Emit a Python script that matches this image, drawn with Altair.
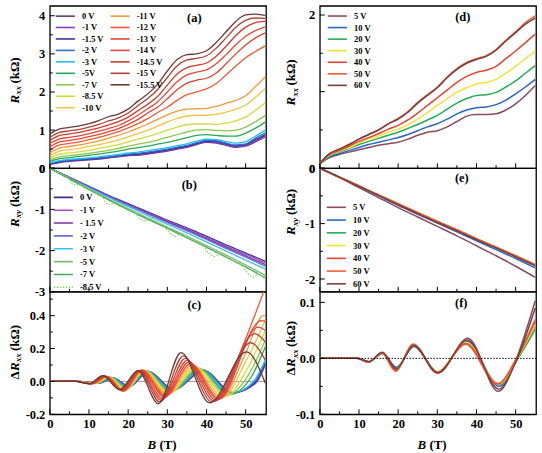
import altair as alt
import pandas as pd

FONT = "Liberation Serif"

# ---------------- shared x values ----------------
B_GRID = [0, 2.5, 5, 7.5, 10, 12.5, 15, 17.5, 20, 22.5, 25, 27.5, 30, 32.5, 35, 37.5, 40, 42.5, 45, 47.5, 50, 52.5, 55]
B_COARSE = [0, 5, 10, 15, 20, 25, 30, 35, 40, 45, 50, 55]
X_TICKS = [0, 10, 20, 30, 40, 50]
X_MINOR = [5, 15, 25, 35, 45]

# ---------------- panel (a) / (c): gate voltages ----------------
A_LABELS = ["0 V", "-1 V", "-1.5 V", "-2 V", "-3 V", "-5V", "-7 V", "-8.5 V", "-10 V",
            "-11 V", "-12 V", "-13 V", "-14 V", "-14.5 V", "-15 V", "-15.5 V"]
A_COLORS = ["#6a3a7a", "#8b3fbf", "#3a2fa2", "#2f6fc8", "#22bdf0", "#2aa85a", "#8cc84a", "#d4dc3c", "#f4c542",
            "#f5993a", "#f05a35", "#e8432f", "#e4473a", "#d33b2c", "#ad4238", "#6e3836"]

RXX_0V = [0.10, 0.15, 0.18, 0.20, 0.22, 0.24, 0.27, 0.30, 0.33, 0.34, 0.37, 0.41, 0.45, 0.50, 0.55, 0.62, 0.68, 0.66, 0.60, 0.55, 0.58, 0.69, 0.82]
RXX_M1V = [0.11, 0.16, 0.19, 0.21, 0.23, 0.25, 0.28, 0.31, 0.34, 0.36, 0.39, 0.43, 0.47, 0.52, 0.57, 0.64, 0.70, 0.68, 0.62, 0.57, 0.60, 0.72, 0.85]
RXX_M1P5V = [0.12, 0.17, 0.20, 0.22, 0.24, 0.26, 0.29, 0.32, 0.35, 0.37, 0.40, 0.44, 0.48, 0.53, 0.58, 0.65, 0.71, 0.70, 0.64, 0.59, 0.62, 0.75, 0.88]
RXX_M2V = [0.13, 0.18, 0.21, 0.23, 0.25, 0.27, 0.30, 0.33, 0.37, 0.39, 0.42, 0.46, 0.50, 0.55, 0.60, 0.67, 0.73, 0.72, 0.66, 0.61, 0.64, 0.79, 0.93]
RXX_M3V = [0.14, 0.20, 0.23, 0.25, 0.27, 0.30, 0.33, 0.36, 0.40, 0.42, 0.46, 0.50, 0.54, 0.59, 0.64, 0.71, 0.76, 0.75, 0.70, 0.66, 0.70, 0.84, 1.00]
RXX_M5V = [0.18, 0.25, 0.28, 0.31, 0.34, 0.37, 0.41, 0.45, 0.50, 0.54, 0.58, 0.63, 0.68, 0.74, 0.80, 0.86, 0.88, 0.86, 0.84, 0.84, 0.92, 1.05, 1.21]
RXX_M7V = [0.22, 0.30, 0.33, 0.36, 0.39, 0.43, 0.47, 0.52, 0.58, 0.63, 0.68, 0.74, 0.81, 0.88, 0.95, 1.00, 1.01, 0.99, 0.98, 1.00, 1.08, 1.22, 1.38]
RXX_M8P5V = [0.27, 0.37, 0.40, 0.43, 0.47, 0.52, 0.57, 0.62, 0.69, 0.76, 0.83, 0.91, 1.00, 1.08, 1.14, 1.16, 1.16, 1.15, 1.18, 1.24, 1.34, 1.52, 1.72]
RXX_M10V = [0.33, 0.45, 0.49, 0.52, 0.57, 0.62, 0.68, 0.74, 0.82, 0.91, 1.00, 1.10, 1.21, 1.31, 1.37, 1.39, 1.39, 1.41, 1.47, 1.55, 1.66, 1.86, 2.09]
RXX_M11V = [0.40, 0.53, 0.57, 0.61, 0.66, 0.72, 0.79, 0.86, 0.95, 1.05, 1.16, 1.28, 1.40, 1.50, 1.55, 1.56, 1.57, 1.62, 1.70, 1.78, 1.90, 2.14, 2.40]
RXX_M12V = [0.48, 0.61, 0.65, 0.69, 0.75, 0.81, 0.88, 0.96, 1.06, 1.17, 1.30, 1.46, 1.60, 1.78, 1.93, 2.00, 2.08, 2.22, 2.45, 2.68, 2.90, 3.06, 3.21]
RXX_M13V = [0.56, 0.69, 0.73, 0.77, 0.83, 0.89, 0.96, 1.04, 1.15, 1.28, 1.45, 1.60, 1.82, 2.06, 2.23, 2.31, 2.36, 2.50, 2.74, 3.00, 3.23, 3.42, 3.55]
RXX_M14V = [0.65, 0.77, 0.81, 0.85, 0.91, 0.97, 1.04, 1.12, 1.24, 1.39, 1.56, 1.74, 2.00, 2.27, 2.45, 2.52, 2.58, 2.74, 2.98, 3.24, 3.46, 3.61, 3.71]
RXX_M14P5V = [0.73, 0.86, 0.90, 0.94, 1.00, 1.06, 1.14, 1.22, 1.34, 1.51, 1.68, 1.88, 2.18, 2.47, 2.64, 2.70, 2.76, 2.94, 3.20, 3.48, 3.70, 3.82, 3.86]
RXX_M15V = [0.81, 0.94, 0.98, 1.02, 1.08, 1.15, 1.24, 1.32, 1.45, 1.64, 1.83, 2.06, 2.38, 2.68, 2.84, 2.88, 2.95, 3.15, 3.42, 3.70, 3.88, 3.94, 3.93]
RXX_M15P5V = [0.90, 1.03, 1.07, 1.11, 1.17, 1.25, 1.35, 1.42, 1.55, 1.76, 1.95, 2.20, 2.55, 2.85, 2.98, 3.00, 3.08, 3.30, 3.58, 3.85, 4.02, 4.04, 4.00]

# panel (c): (B, dRxx) points read at extrema / crossings
DRXX_0V = [(0, 0), (6, 0.002), (12.6, -0.010), (16.2, 0.020), (20.4, -0.030), (25.2, 0.060), (31.7, -0.050), (39.3, 0.066), (46.7, -0.068), (52.5, -0.012), (55, 0.100)]
DRXX_M1V = [(0, 0), (6, 0.002), (12.5, -0.010), (16.1, 0.021), (20.3, -0.031), (25.1, 0.060), (31.6, -0.050), (39.2, 0.067), (46.6, -0.070), (52.4, -0.010), (55, 0.105)]
DRXX_M1P5V = [(0, 0), (6, 0.002), (12.4, -0.010), (16.0, 0.022), (20.2, -0.032), (25.0, 0.061), (31.5, -0.050), (39.1, 0.068), (46.5, -0.070), (52.3, -0.008), (55, 0.110)]
DRXX_M2V = [(0, 0), (6, 0.002), (12.3, -0.010), (15.9, 0.023), (20.1, -0.034), (24.9, 0.062), (31.4, -0.052), (39.0, 0.070), (46.4, -0.072), (52.2, -0.005), (55, 0.115)]
DRXX_M3V = [(0, 0), (6, 0.002), (12.2, -0.011), (15.8, 0.024), (20.0, -0.036), (24.8, 0.063), (31.2, -0.055), (38.7, 0.072), (46.2, -0.075), (52.0, 0.000), (55, 0.130)]
DRXX_M5V = [(0, 0), (6, 0.002), (12.0, -0.011), (15.6, 0.025), (19.8, -0.040), (24.6, 0.064), (31.0, -0.060), (38.3, 0.076), (45.8, -0.080), (51.5, 0.030), (55, 0.210)]
DRXX_M7V = [(0, 0), (6, 0.002), (11.8, -0.012), (15.4, 0.026), (19.6, -0.045), (24.4, 0.065), (30.8, -0.066), (37.8, 0.080), (45.3, -0.085), (51.0, 0.050), (55, 0.250)]
DRXX_M8P5V = [(0, 0), (6, 0.002), (11.6, -0.012), (15.2, 0.027), (19.4, -0.050), (24.2, 0.066), (30.5, -0.072), (37.3, 0.085), (44.8, -0.090), (50.5, 0.080), (55, 0.310)]
DRXX_M10V = [(0, 0), (6, 0.002), (11.4, -0.013), (15.0, 0.028), (19.2, -0.055), (24.0, 0.067), (30.2, -0.078), (36.8, 0.092), (44.2, -0.095), (50.0, 0.120), (55, 0.370)]
DRXX_M11V = [(0, 0), (6, 0.002), (11.2, -0.013), (14.8, 0.029), (19.0, -0.058), (23.8, 0.068), (29.9, -0.083), (36.3, 0.100), (43.7, -0.100), (50.0, 0.170), (54.5, 0.400), (55, 0.398)]
DRXX_M12V = [(0, 0), (6, 0.002), (11.0, -0.014), (14.6, 0.030), (18.8, -0.060), (23.6, 0.068), (29.6, -0.088), (35.9, 0.108), (43.3, -0.105), (49.0, 0.200), (55, 0.570)]
DRXX_M13V = [(0, 0), (6, 0.002), (10.8, -0.014), (14.4, 0.031), (18.6, -0.058), (23.4, 0.068), (29.3, -0.095), (35.5, 0.117), (43.0, -0.110), (54.0, 0.370), (55, 0.365)]
DRXX_M14V = [(0, 0), (6, 0.002), (10.6, -0.015), (14.2, 0.032), (18.4, -0.056), (23.2, 0.067), (28.9, -0.105), (35.1, 0.128), (42.5, -0.115), (53.2, 0.330), (55, 0.310)]
DRXX_M14P5V = [(0, 0), (6, 0.002), (10.4, -0.015), (14.0, 0.033), (18.2, -0.054), (23.0, 0.067), (28.5, -0.115), (34.6, 0.140), (42.0, -0.120), (52.3, 0.290), (55, 0.240)]
DRXX_M15V = [(0, 0), (6, 0.002), (10.2, -0.015), (13.8, 0.034), (18.0, -0.052), (22.8, 0.066), (28.1, -0.125), (34.1, 0.155), (41.4, -0.125), (51.3, 0.235), (55, 0.130)]
DRXX_M15P5V = [(0, 0), (6, 0.002), (10.0, -0.015), (13.5, 0.035), (17.8, -0.050), (22.5, 0.065), (27.7, -0.135), (33.5, 0.175), (40.8, -0.130), (50.2, 0.180), (55, -0.010)]

# ---------------- panel (b) ----------------
B_LABELS = ["0 V", "-1 V", "- 1.5 V", "-2 V", "-3 V", "-5 V", "-7 V", "-8.5 V"]
B_COLORS = ["#3b2c8e", "#a14fcf", "#7b2fa9", "#6c6ed0", "#33c1f2", "#7fba72", "#47a85a", "#8fd35e"]
RXY_0V = [0, -0.22, -0.44, -0.66, -0.86, -1.06, -1.26, -1.45, -1.65, -1.86, -2.06, -2.26]
RXY_M1V = [0, -0.22, -0.45, -0.67, -0.88, -1.08, -1.28, -1.48, -1.68, -1.89, -2.09, -2.30]
RXY_M1P5V = [0, -0.23, -0.46, -0.68, -0.89, -1.10, -1.30, -1.50, -1.71, -1.92, -2.13, -2.34]
RXY_M2V = [0, -0.23, -0.46, -0.69, -0.90, -1.11, -1.32, -1.52, -1.73, -1.95, -2.16, -2.38]
RXY_M3V = [0, -0.24, -0.48, -0.71, -0.93, -1.15, -1.36, -1.57, -1.79, -2.01, -2.23, -2.45]
RXY_M5V = [0, -0.25, -0.50, -0.75, -0.98, -1.21, -1.43, -1.65, -1.88, -2.11, -2.35, -2.60]
RXY_M7V = [0, -0.26, -0.52, -0.77, -1.01, -1.24, -1.46, -1.69, -1.92, -2.16, -2.40, -2.66]
RXY_M8P5V = [(0, 0), (2, -0.10), (4, -0.20), (5, -0.27), (6, -0.40), (7, -0.40), (8, -0.41), (10, -0.50),
             (12, -0.61), (13.5, -0.70), (14.5, -0.86), (15.5, -0.88), (16.5, -0.82), (18, -0.88), (20, -0.99),
             (22, -1.10), (23, -1.24), (24.5, -1.28), (25.5, -1.21), (27, -1.28), (29, -1.39), (30.5, -1.56),
             (32, -1.66), (33.5, -1.58), (35, -1.65), (37, -1.76), (39, -1.87), (40.5, -2.05), (42, -2.14),
             (43.5, -2.07), (45, -2.14), (47, -2.25), (49, -2.36), (50.5, -2.55), (52, -2.64), (53.5, -2.58),
             (55, -2.72)]

# ---------------- panels (d), (e), (f) ----------------
D_LABELS = ["5 V", "10 V", "20 V", "30 V", "40 V", "50 V", "60 V"]
D_COLORS = ["#8c4a62", "#2a66c8", "#25ad55", "#f2e33c", "#e8432f", "#f25a38", "#7a3f3f"]
RXX_D_5V = [0.06, 0.14, 0.18, 0.21, 0.24, 0.27, 0.30, 0.32, 0.34, 0.38, 0.43, 0.47, 0.49, 0.54, 0.61, 0.68, 0.70, 0.70, 0.71, 0.76, 0.84, 0.95, 1.08]
RXX_D_10V = [0.06, 0.15, 0.19, 0.23, 0.27, 0.31, 0.34, 0.37, 0.40, 0.44, 0.49, 0.54, 0.58, 0.64, 0.71, 0.76, 0.79, 0.80, 0.83, 0.89, 0.97, 1.06, 1.16]
RXX_D_20V = [0.06, 0.16, 0.21, 0.26, 0.31, 0.35, 0.39, 0.43, 0.47, 0.52, 0.57, 0.63, 0.69, 0.77, 0.85, 0.91, 0.95, 0.96, 0.99, 1.06, 1.14, 1.24, 1.34]
RXX_D_30V = [0.06, 0.17, 0.22, 0.27, 0.33, 0.38, 0.42, 0.47, 0.51, 0.57, 0.64, 0.73, 0.82, 0.91, 0.99, 1.05, 1.10, 1.12, 1.16, 1.24, 1.33, 1.43, 1.53]
RXX_D_40V = [0.06, 0.18, 0.23, 0.29, 0.35, 0.40, 0.45, 0.51, 0.56, 0.63, 0.72, 0.82, 0.92, 1.02, 1.12, 1.20, 1.25, 1.28, 1.33, 1.43, 1.53, 1.64, 1.75]
RXX_D_50V = [0.06, 0.19, 0.25, 0.31, 0.38, 0.44, 0.50, 0.58, 0.65, 0.74, 0.86, 0.96, 1.06, 1.19, 1.30, 1.38, 1.43, 1.47, 1.55, 1.67, 1.78, 1.90, 1.99]
RXX_D_60V = [0.06, 0.19, 0.25, 0.31, 0.38, 0.44, 0.50, 0.58, 0.64, 0.73, 0.85, 0.95, 1.05, 1.18, 1.29, 1.37, 1.42, 1.46, 1.54, 1.66, 1.77, 1.88, 1.96]

RXY_E_5V = [0, -0.17, -0.35, -0.53, -0.71, -0.88, -1.05, -1.22, -1.40, -1.58, -1.77, -1.97]
RXY_E_10V = [0, -0.16, -0.33, -0.50, -0.67, -0.83, -0.99, -1.15, -1.31, -1.47, -1.63, -1.80]
RXY_E_20V = [0, -0.16, -0.32, -0.49, -0.65, -0.81, -0.96, -1.12, -1.27, -1.42, -1.58, -1.74]
RXY_E_30V = [0, -0.16, -0.32, -0.48, -0.64, -0.80, -0.96, -1.11, -1.27, -1.42, -1.58, -1.74]
RXY_E_40V = [0, -0.16, -0.32, -0.49, -0.65, -0.81, -0.97, -1.12, -1.28, -1.43, -1.59, -1.75]
RXY_E_50V = [0, -0.16, -0.32, -0.48, -0.64, -0.80, -0.96, -1.11, -1.27, -1.43, -1.58, -1.74]
RXY_E_60V = [0, -0.16, -0.33, -0.49, -0.66, -0.82, -0.98, -1.13, -1.29, -1.44, -1.60, -1.76]

DRXX_F_5V = [(0, 0), (9.5, 0.0), (12.5, -0.006), (16.0, 0.009), (19.6, -0.016), (24.0, 0.022), (30.2, -0.026), (37.8, 0.036), (45.6, -0.059), (50.2, 0.0), (55, 0.103)]
DRXX_F_10V = [(0, 0), (9.5, 0.0), (12.5, -0.006), (16.0, 0.008), (19.5, -0.017), (24.0, 0.021), (30.1, -0.025), (37.6, 0.030), (45.8, -0.050), (50.5, 0.0), (55, 0.058)]
DRXX_F_20V = [(0, 0), (9.5, 0.0), (12.5, -0.006), (16.0, 0.009), (19.5, -0.018), (24.0, 0.022), (30.0, -0.024), (37.4, 0.027), (45.9, -0.047), (50.6, 0.0), (55, 0.052)]
DRXX_F_30V = [(0, 0), (9.5, 0.0), (12.4, -0.007), (15.9, 0.009), (19.4, -0.020), (23.9, 0.024), (30.0, -0.024), (37.3, 0.029), (45.7, -0.046), (50.4, 0.0), (55, 0.060)]
DRXX_F_40V = [(0, 0), (9.5, 0.0), (12.4, -0.007), (15.9, 0.010), (19.4, -0.021), (23.9, 0.025), (30.0, -0.025), (37.3, 0.026), (45.5, -0.045), (50.3, 0.0), (55, 0.066)]
DRXX_F_50V = [(0, 0), (9.5, 0.0), (12.4, -0.007), (15.8, 0.010), (19.3, -0.023), (23.8, 0.025), (29.9, -0.026), (37.2, 0.025), (45.3, -0.046), (50.2, 0.0), (55, 0.070)]
DRXX_F_60V = [(0, 0), (9.5, 0.0), (12.5, -0.006), (16.0, 0.011), (19.5, -0.019), (24.0, 0.023), (30.1, -0.026), (37.7, 0.033), (45.7, -0.055), (50.4, 0.0), (55, 0.090)]

# ---------------- helpers ----------------
W = 217
XS = alt.Scale(domain=[0, 55.2], nice=False, zero=False)
ONE = pd.DataFrame({"k": [0]})


def grid_df(labels, series, grid, key):
    rows = []
    for lab, vals in zip(labels, series):
        for b, v in zip(grid, vals):
            rows.append({"B": b, "v": v, key: lab})
    return pd.DataFrame(rows)


def knot_df(labels, series, key):
    rows = []
    for lab, pts in zip(labels, series):
        for b, v in pts:
            rows.append({"B": b, "v": v, key: lab})
    return pd.DataFrame(rows)


def text_layer(text, x, y, size, style="normal", angle=0, align="left", baseline="alphabetic"):
    return alt.Chart(ONE).mark_text(
        text=text, font=FONT, fontSize=size, fontStyle=style, fontWeight="bold",
        angle=angle, align=align, baseline=baseline, color="black"
    ).encode(x=alt.value(x), y=alt.value(y))


RXX_PARTS = [("R", 13, "italic", 9, 0), ("xx", 8.5, "italic", 11, 2.5), ("(kΩ)", 13, "normal", 0, 0)]
RXY_PARTS = [("R", 13, "italic", 9, 0), ("xy", 8.5, "italic", 11, 2.5), ("(kΩ)", 13, "normal", 0, 0)]
DRXX_PARTS = [("Δ", 13, "normal", 8.5, 0), ("R", 13, "italic", 9, 0), ("xx", 8.5, "italic", 11, 2.5), ("(kΩ)", 13, "normal", 0, 0)]


def make_legend(x, y, cols, rowpad):
    return alt.Legend(
        title=None, orient="none", legendX=x, legendY=y, columns=cols,
        symbolType="M-3.5,0H3.5", symbolSize=30, symbolStrokeWidth=1.6, symbolOffset=5.3,
        labelFont=FONT, labelFontWeight="bold", labelFontSize=8.5, labelColor="black",
        labelOffset=12.5, rowPadding=rowpad, columnPadding=2, padding=0,
    )


def panel(df, key, dom, rng, ydom, H, ymaj, ymin, yfmt, show_x, legend, label, lpos,
          tparts, tx, tstart, dash=None, lw=1.3, zero=None):
    ys = alt.Scale(domain=ydom, nice=False, zero=False)
    xa = alt.Axis(values=X_TICKS, format="d", ticks=False, domain=False, grid=False, title=None,
                  labelPadding=3, labelFlush=False, labelOverlap=False) if show_x else None
    ya = alt.Axis(values=ymaj, format=yfmt, labelExpr="replace(datum.label, '\u2212', '-')",
                  ticks=False, domain=False, grid=False, title=None, labelPadding=5,
                  labelFlush=False, labelOverlap=False)
    enc = {
        "x": alt.X("B:Q", scale=XS, axis=xa),
        "y": alt.Y("v:Q", scale=ys, axis=ya),
        "color": alt.Color(f"{key}:N", scale=alt.Scale(domain=dom, range=rng), legend=legend),
    }
    if dash is not None:
        enc["strokeDash"] = alt.StrokeDash(f"{key}:N", scale=alt.Scale(domain=dom, range=dash), legend=legend)
    layers = []
    if zero == "gray":
        layers.append(alt.Chart(pd.DataFrame({"v": [0]})).mark_rule(color="#9a9a9a", strokeWidth=1).encode(
            y=alt.Y("v:Q", scale=ys, axis=ya), x=alt.value(0), x2=alt.value(W)))
    layers.append(alt.Chart(df).mark_line(interpolate="monotone", strokeWidth=lw, clip=True).encode(**enc))
    if zero == "dot":
        layers.append(alt.Chart(pd.DataFrame({"v": [0]})).mark_rule(color="black", strokeWidth=1, strokeDash=[1.5, 1.5]).encode(
            y=alt.Y("v:Q", scale=ys, axis=ya), x=alt.value(0), x2=alt.value(W)))
    # inward ticks
    layers.append(alt.Chart(pd.DataFrame({"v": X_TICKS})).mark_rule(color="black", strokeWidth=1).encode(
        x=alt.X("v:Q", scale=XS, axis=xa), y=alt.value(H), y2=alt.value(H - 5)))
    layers.append(alt.Chart(pd.DataFrame({"v": X_MINOR})).mark_rule(color="black", strokeWidth=1).encode(
        x=alt.X("v:Q", scale=XS, axis=xa), y=alt.value(H), y2=alt.value(H - 3)))
    layers.append(alt.Chart(pd.DataFrame({"v": ymaj})).mark_rule(color="black", strokeWidth=1).encode(
        y=alt.Y("v:Q", scale=ys, axis=ya), x=alt.value(0), x2=alt.value(5)))
    layers.append(alt.Chart(pd.DataFrame({"v": ymin})).mark_rule(color="black", strokeWidth=1).encode(
        y=alt.Y("v:Q", scale=ys, axis=ya), x=alt.value(0), x2=alt.value(3)))
    # panel label
    layers.append(text_layer(label, lpos[0], lpos[1], 12.5, align="center", baseline="middle"))
    # y title
    y = tstart
    for text, size, style, width, dx in tparts:
        layers.append(text_layer(text, tx + dx, y, size, style, angle=270))
        y -= width
    if show_x:
        layers.append(text_layer("B", 98, H + 35, 13, "italic"))
        layers.append(text_layer("(T)", 110, H + 35, 13))
    return alt.layer(*layers).properties(width=W, height=H)


# ---------------- build panels ----------------
A_SERIES = [RXX_0V, RXX_M1V, RXX_M1P5V, RXX_M2V, RXX_M3V, RXX_M5V, RXX_M7V, RXX_M8P5V, RXX_M10V,
            RXX_M11V, RXX_M12V, RXX_M13V, RXX_M14V, RXX_M14P5V, RXX_M15V, RXX_M15P5V]
C_SERIES = [DRXX_0V, DRXX_M1V, DRXX_M1P5V, DRXX_M2V, DRXX_M3V, DRXX_M5V, DRXX_M7V, DRXX_M8P5V, DRXX_M10V,
            DRXX_M11V, DRXX_M12V, DRXX_M13V, DRXX_M14V, DRXX_M14P5V, DRXX_M15V, DRXX_M15P5V]
# legend of (a): two columns filled top-down (9 rows), padded with two blank slots
a_dom = A_LABELS + [" ", "  "]
a_rng = A_COLORS + ["transparent", "transparent"]

df_a = grid_df(A_LABELS, A_SERIES, B_GRID, "sa")
df_c = knot_df(A_LABELS, C_SERIES, "sc")
df_b = pd.concat([
    grid_df(B_LABELS[:7], [RXY_0V, RXY_M1V, RXY_M1P5V, RXY_M2V, RXY_M3V, RXY_M5V, RXY_M7V], B_COARSE, "sb"),
    knot_df(B_LABELS[7:], [RXY_M8P5V], "sb"),
])
df_d = grid_df(D_LABELS, [RXX_D_5V, RXX_D_10V, RXX_D_20V, RXX_D_30V, RXX_D_40V, RXX_D_50V, RXX_D_60V], B_GRID, "sd")
df_e = grid_df(D_LABELS, [RXY_E_5V, RXY_E_10V, RXY_E_20V, RXY_E_30V, RXY_E_40V, RXY_E_50V, RXY_E_60V], B_COARSE, "se")
df_f = knot_df(D_LABELS, [DRXX_F_5V, DRXX_F_10V, DRXX_F_20V, DRXX_F_30V, DRXX_F_40V, DRXX_F_50V, DRXX_F_60V], "sf")

pa = panel(df_a, "sa", a_dom, a_rng, [0, 4.26], 163, [0, 1, 2, 3, 4], [0.5, 1.5, 2.5, 3.5], "d", False,
           make_legend(6, 6, 2, 2.5), "(a)", (145, 12), RXX_PARTS, -31, 98)
pb = panel(df_b, "sb", B_LABELS, B_COLORS, [-3.0, 0], 124, [0, -1, -2, -3], [-0.5, -1.5, -2.5], "d", False,
           make_legend(4, 25, 1, 3.9), "(b)", (140, 16.5), RXY_PARTS, -31, 59,
           dash=[[1, 0]] * 7 + [[1.5, 1.5]])
pc = panel(df_c, "sc", A_LABELS, A_COLORS, [-0.2, 0.545], 123, [-0.2, 0.0, 0.2, 0.4], [-0.1, 0.1, 0.3, 0.5], ".1f", True,
           None, "(c)", (145, 13), DRXX_PARTS, -31, 88, zero="gray")
pd_ = panel(df_d, "sd", D_LABELS, D_COLORS, [0, 2.12], 163, [0, 1, 2], [0.5, 1.5], "d", False,
            make_legend(8, 6, 1, 2.6), "(d)", (143.5, 11), RXX_PARTS, -24.5, 100, lw=1.5)
pe = panel(df_e, "se", D_LABELS, D_COLORS, [-2.23, 0], 124, [0, -1, -2], [-0.5, -1.5], "d", False,
           make_legend(7, 35, 1, 3.8), "(e)", (142.5, 9.5), RXY_PARTS, -24.5, 67, lw=1.5)
pf = panel(df_f, "sf", D_LABELS, D_COLORS, [-0.1, 0.119], 123, [-0.1, 0.0, 0.1], [-0.05, 0.05], ".1f", True,
           None, "(f)", (142, 11.5), DRXX_PARTS, -24.5, 84, lw=1.5, zero="dot")

chart = alt.concat(
    pa, pd_, pb, pe, pc, pf, columns=2, spacing={"row": 0, "column": 54}, bounds="flush"
).resolve_scale(
    color="independent", strokeDash="independent"
).properties(
    padding={"left": 8, "top": 4, "right": 4, "bottom": 0},
).configure_view(
    stroke="black", strokeWidth=1.3
).configure_axis(
    labelFont=FONT, labelFontWeight="bold", labelFontSize=12.5, labelColor="black"
)

chart.save("out.html", embed_options={"renderer": "svg", "actions": False})
